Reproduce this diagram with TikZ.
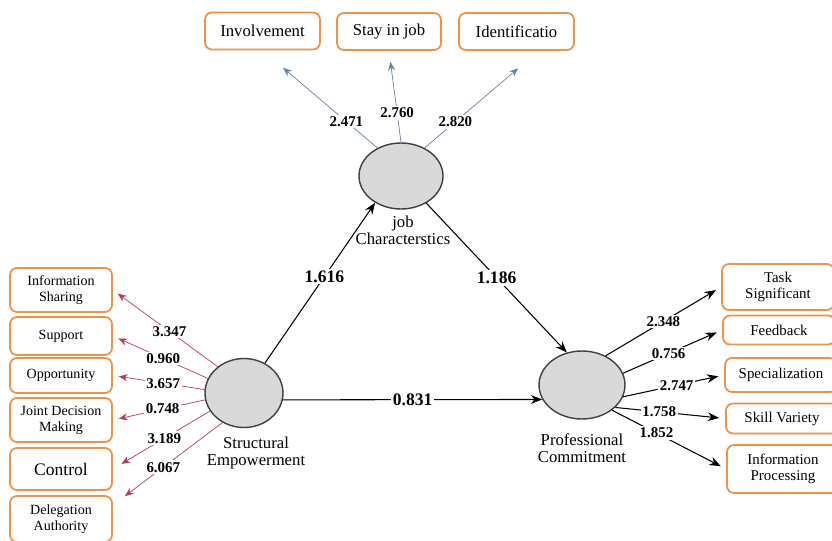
\documentclass[tikz,border=0pt]{standalone}
\usepackage{fontspec}
\setmainfont{Liberation Serif}
\usetikzlibrary{shapes.geometric,arrows.meta}
\definecolor{boxorange}{RGB}{242,145,70}
\definecolor{topblue}{RGB}{105,130,165}
\definecolor{leftred}{RGB}{178,62,92}
\definecolor{latgray}{RGB}{217,217,217}

\begin{document}
\begin{tikzpicture}[x=0.02cm,y=-0.02cm,latent/.style={shape=ellipse,draw=black!75,fill=latgray,thick},item/.style={shape=rectangle,rounded corners=4pt,draw=boxorange,line width=1pt,fill=white,align=center,inner sep=1pt},itemT/.style={item,minimum width=2.3cm,minimum height=0.74cm,font=\fontsize{9.5}{11}\selectfont},itemL/.style={item,minimum width=2.04cm,font=\fontsize{8}{9}\selectfont},itemR/.style={item,minimum width=2.24cm,font=\fontsize{8.5}{9.5}\selectfont},latname/.style={align=center,font=\fontsize{9.5}{9.5}\selectfont},coef/.style={fill=white,text=black,inner sep=1pt,font=\fontsize{8.5}{9}\selectfont\bfseries},coefB/.style={coef,font=\fontsize{10}{10}\selectfont\bfseries},arrT/.style={-{Stealth[length=5pt,width=4pt]},topblue,thin},arrL/.style={-{Stealth[length=5pt,width=4pt]},leftred,thin},arrR/.style={-{Stealth[length=6.5pt,width=5pt]},black,semithick}]
\def\gapL{0.12cm};
\def\gapR{0.12cm};

\fill[white] (0,0) rectangle (832,541);
\path[use as bounding box] (0,0) rectangle (832,541);

% latent variables
\node[latent,minimum width=1.68cm,minimum height=1.32cm] (job) at (401,176) {};
\node[latname] (jobL) at (403,230) {job\\Characterstics};
\node[latent,minimum width=1.56cm,minimum height=1.38cm] (SE) at (244,393) {};
\node[latname] (SEL) at (256,453) {Structural\\Empowerment};
\node[latent,minimum width=1.72cm,minimum height=1.36cm] (PC) at (582,385) {};
\node[latname] (PCL) at (582,448) {Professional\\Commitment};

% job characteristics items
\node[itemT] (inv) at (262.5,31) {Involvement};
\node[itemT,minimum width=2.08cm] (stay) at (389,31.5) {Stay in job};
\node[itemT] (ident) at (516.5,31.5) {Identificatio};

\draw[arrT,shorten >=0.54cm] (job.130) -- (inv.south) node[coef,pos=0.27] {2.471};
\draw[arrT,shorten >=0.22cm] (job.north) -- (stay.south) node[coef,pos=0.32] {2.760};
\draw[arrT,shorten >=0.54cm] (job.50) -- (ident.-41) node[coef,pos=0.27] {2.820};

% structural empowerment items
\node[itemL,minimum height=0.88cm] (infoS) at (61,290) {Information\\Sharing};
\node[itemL,minimum height=0.76cm] (supp) at (61,336) {Support};
\node[itemL,minimum height=0.7cm] (opp) at (61,375.5) {Opportunity};
\node[itemL,minimum height=0.88cm] (joint) at (61,420) {Joint Decision\\Making};
\node[itemL,minimum height=0.84cm,font=\fontsize{10}{11}\selectfont] (ctrl) at (61,469) {Control};
\node[itemL,minimum height=0.92cm] (deleg) at (61,519) {Delegation\\Authority};

\draw[arrL,shorten >=\gapL] (SE.135) -- (infoS.east) node[coef,pos=0.46] {3.347};
\draw[arrL,shorten >=\gapL] (SE.158) -- (supp.east) node[coef,pos=0.47] {0.960};
\draw[arrL,shorten >=\gapL] (SE.175) -- (opp.east) node[coef,pos=0.45] {3.657};
\draw[arrL,shorten >=\gapL] (SE.190) -- (joint.east) node[coef,pos=0.46] {0.748};
\draw[arrL,shorten >=0.2cm] (SE.208) -- (ctrl.east) node[coef,pos=0.47] {3.189};
\draw[arrL,shorten >=0.3cm] (SE.234) -- (deleg.15) node[coef,pos=0.54] {6.067};

% professional commitment items
\node[itemR,minimum height=0.92cm] (task) at (778,287) {Task\\Significant};
\node[itemR,minimum height=0.58cm] (feed) at (779,330) {Feedback};
\node[itemR,minimum height=0.68cm] (spec) at (781,375) {Specialization};
\node[itemR,minimum height=0.6cm] (skill) at (782,418.5) {Skill Variety};
\node[itemR,minimum height=0.96cm] (infoP) at (783,469) {Information\\Processing};

\draw[arrR,shorten >=\gapR] (PC.51) -- (task.west) node[coef,pos=0.5] {2.348};
\draw[arrR,shorten >=\gapR] (PC.16) -- (feed.west) node[coef,pos=0.46] {0.756};
\draw[arrR,shorten >=\gapR] (PC.-16) -- (spec.west) node[coef,pos=0.53] {2.747};
\draw[arrR,shorten >=\gapR] (PC.-34) -- (skill.west) node[coef,pos=0.4] {1.758};
\draw[arrR,shorten >=\gapR] (PC.-40) -- (infoP.west) node[coef,pos=0.39] {1.852};

% structural paths
\draw[arrR] (SE.55) -- (job.226) node[coefB,pos=0.54] {1.616};
\draw[arrR] (job.-47) -- (PC.115) node[coefB,pos=0.5] {1.186};
\draw[arrR] (SE.-10) -- (PC.200) node[coefB,pos=0.5] {0.831};
\end{tikzpicture}
\end{document}
